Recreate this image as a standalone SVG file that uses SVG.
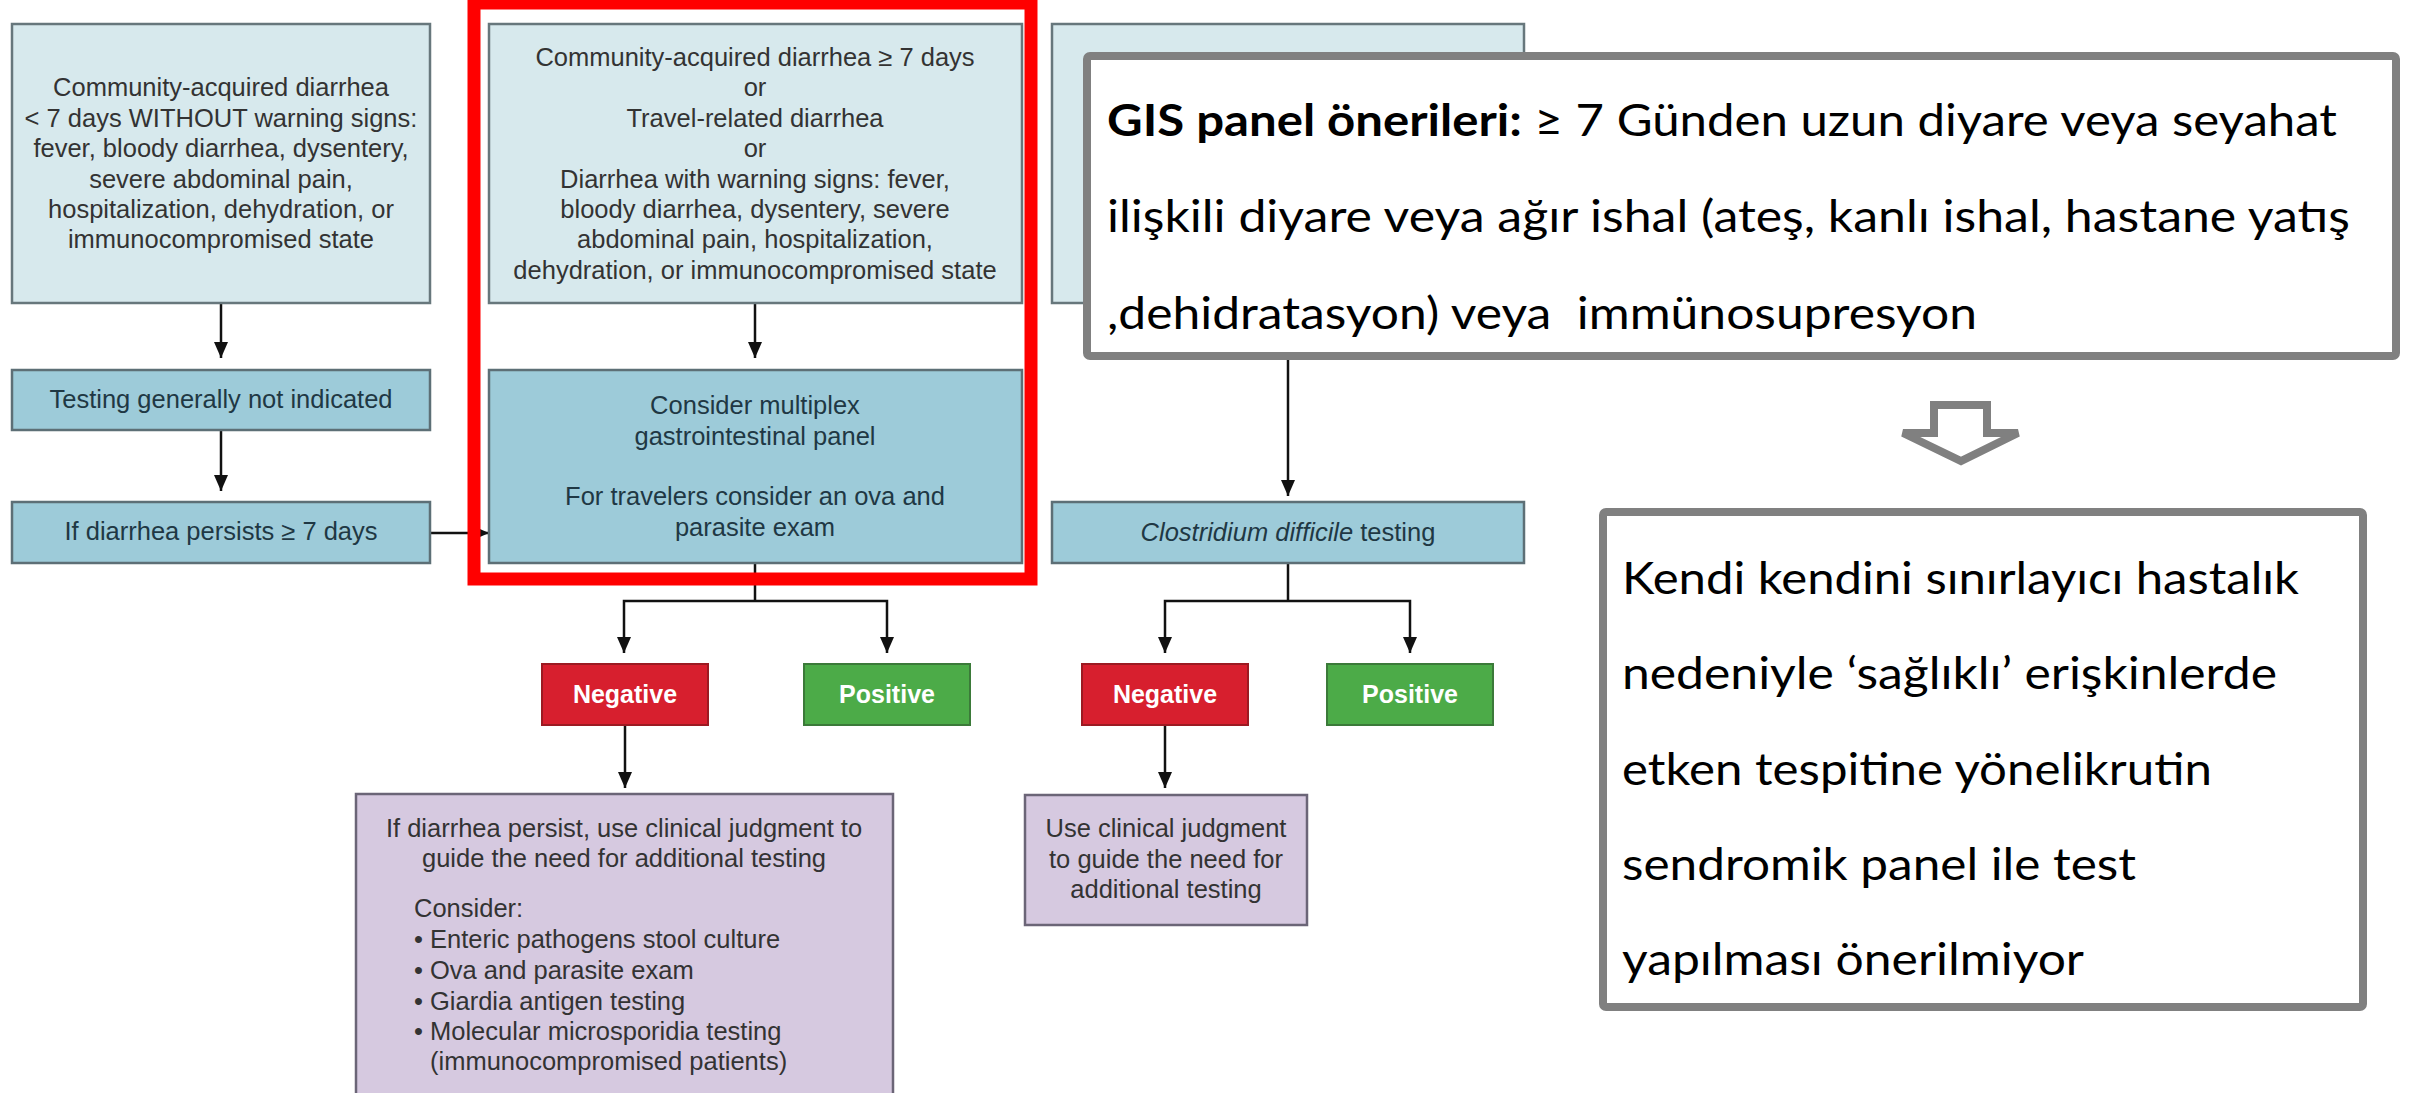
<svg xmlns="http://www.w3.org/2000/svg" width="2412" height="1093" viewBox="0 0 2412 1093">
<defs>
<style>
.pale{fill:#d7e9ed;stroke:#67777c;stroke-width:2.5}
.mid{fill:#9dcbd9;stroke:#5d6f76;stroke-width:2.5}
.neg{fill:#d71f2e;stroke:#9c1a22;stroke-width:2}
.pos{fill:#4cab48;stroke:#3b7a39;stroke-width:2}
.pur{fill:#d6c9e0;stroke:#6b6577;stroke-width:2.5}
.t{font-family:"Liberation Sans",Arial,sans-serif;font-size:25.5px;fill:#333;text-anchor:middle}
.td{fill:#1f3844}
.tl{text-anchor:start}
.tw{font-family:"Liberation Sans",Arial,sans-serif;font-weight:bold;fill:#fff;font-size:25px;text-anchor:middle}
.con{stroke:#111;stroke-width:2.5;fill:none}
.arr{marker-end:url(#ah)}
.gbox{fill:#fff;stroke:#808080;stroke-width:8}
.tr{font-family:Lato,"Liberation Sans",sans-serif;font-size:44px;fill:#000}
</style>
<marker id="ah" viewBox="0 0 16 14" refX="16" refY="7" markerWidth="16" markerHeight="14" markerUnits="userSpaceOnUse" orient="auto">
<path d="M0,0 L16,7 L0,14 Z" fill="#111"/>
</marker>
</defs>
<rect width="2412" height="1093" fill="#fff"/>

<g id="connectors">
<line class="con arr" x1="221" y1="303" x2="221" y2="358"/>
<line class="con arr" x1="221" y1="430" x2="221" y2="491"/>
<line class="con arr" x1="430" y1="533" x2="489" y2="533"/>
<line class="con arr" x1="755" y1="303" x2="755" y2="358"/>
<polyline class="con" points="755,563 755,601"/>
<polyline class="con arr" points="755,601 624,601 624,653"/>
<polyline class="con arr" points="755,601 887,601 887,653"/>
<line class="con arr" x1="625" y1="725" x2="625" y2="788"/>
<line class="con arr" x1="1288" y1="303" x2="1288" y2="496"/>
<polyline class="con" points="1288,563 1288,601"/>
<polyline class="con arr" points="1288,601 1165,601 1165,653"/>
<polyline class="con arr" points="1288,601 1410,601 1410,653"/>
<line class="con arr" x1="1165" y1="725" x2="1165" y2="788"/>
</g>

<g id="box-under7">
<rect class="pale" x="12" y="24" width="418" height="279"/>
<text class="t"><tspan x="221" y="96">Community-acquired diarrhea</tspan><tspan x="221" y="127">&lt; 7 days WITHOUT warning signs:</tspan><tspan x="221" y="157">fever, bloody diarrhea, dysentery,</tspan><tspan x="221" y="188">severe abdominal pain,</tspan><tspan x="221" y="218">hospitalization, dehydration, or</tspan><tspan x="221" y="248">immunocompromised state</tspan></text>
</g>
<g id="box-not-indicated">
<rect class="mid" x="12" y="370" width="418" height="60"/>
<text class="t td" x="221" y="408">Testing generally not indicated</text>
</g>
<g id="box-persists">
<rect class="mid" x="12" y="502" width="418" height="61"/>
<text class="t td" x="221" y="540">If diarrhea persists ≥ 7 days</text>
</g>

<g id="box-over7">
<rect class="pale" x="489" y="24" width="533" height="279"/>
<text class="t"><tspan x="755" y="66">Community-acquired diarrhea ≥ 7 days</tspan><tspan x="755" y="96">or</tspan><tspan x="755" y="127">Travel-related diarrhea</tspan><tspan x="755" y="157">or</tspan><tspan x="755" y="188">Diarrhea with warning signs: fever,</tspan><tspan x="755" y="218">bloody diarrhea, dysentery, severe</tspan><tspan x="755" y="248">abdominal pain, hospitalization,</tspan><tspan x="755" y="279">dehydration, or immunocompromised state</tspan></text>
</g>
<g id="box-multiplex">
<rect class="mid" x="489" y="370" width="533" height="193"/>
<text class="t td"><tspan x="755" y="414">Consider multiplex</tspan><tspan x="755" y="445">gastrointestinal panel</tspan><tspan x="755" y="505">For travelers consider an ova and</tspan><tspan x="755" y="536">parasite exam</tspan></text>
</g>

<g id="neg1">
<rect class="neg" x="542" y="664" width="166" height="61"/>
<text class="tw" x="625" y="703">Negative</text>
</g>
<g id="pos1">
<rect class="pos" x="804" y="664" width="166" height="61"/>
<text class="tw" x="887" y="703">Positive</text>
</g>
<g id="purple1">
<rect class="pur" x="356" y="794" width="537" height="310"/>
<text class="t"><tspan x="624" y="837">If diarrhea persist, use clinical judgment to</tspan><tspan x="624" y="867">guide the need for additional testing</tspan></text>
<text class="t tl"><tspan x="414" y="917">Consider:</tspan><tspan x="414" y="948">• Enteric pathogens stool culture</tspan><tspan x="414" y="979">• Ova and parasite exam</tspan><tspan x="414" y="1010">• Giardia antigen testing</tspan><tspan x="414" y="1040">• Molecular microsporidia testing</tspan><tspan x="430" y="1070">(immunocompromised patients)</tspan></text>
</g>

<g id="box-right-top">
<rect class="pale" x="1052" y="24" width="472" height="279"/>
</g>
<g id="box-cdiff">
<rect class="mid" x="1052" y="502" width="472" height="61"/>
<text class="t td" x="1288" y="541"><tspan font-style="italic">Clostridium difficile</tspan> testing</text>
</g>
<g id="neg2">
<rect class="neg" x="1082" y="664" width="166" height="61"/>
<text class="tw" x="1165" y="703">Negative</text>
</g>
<g id="pos2">
<rect class="pos" x="1327" y="664" width="166" height="61"/>
<text class="tw" x="1410" y="703">Positive</text>
</g>
<g id="purple2">
<rect class="pur" x="1025" y="795" width="282" height="130"/>
<text class="t"><tspan x="1166" y="837">Use clinical judgment</tspan><tspan x="1166" y="868">to guide the need for</tspan><tspan x="1166" y="898">additional testing</tspan></text>
</g>

<g id="red-frame">
<rect x="474" y="3" width="557" height="576" fill="none" stroke="#ff0000" stroke-width="13"/>
</g>

<g id="gis-box">
<rect class="gbox" x="1087" y="56" width="1309" height="300" rx="3"/>
<text class="tr" x="1107" y="136" textLength="1230" lengthAdjust="spacingAndGlyphs"><tspan font-weight="bold">GIS panel önerileri:</tspan> ≥ 7 Günden uzun diyare veya seyahat</text>
<text class="tr" x="1107" y="232" textLength="1243" lengthAdjust="spacingAndGlyphs">ilişkili diyare veya ağır ishal (ateş, kanlı ishal, hastane yatış</text>
<text class="tr" x="1107" y="329" textLength="870" lengthAdjust="spacingAndGlyphs" xml:space="preserve">,dehidratasyon) veya  immünosupresyon</text>
</g>

<g id="hollow-arrow">
<polygon points="1934,405 1987,405 1987,433 2018,433 1961,461 1903,433 1934,433" fill="#fff" stroke="#808080" stroke-width="8"/>
</g>

<g id="final-box">
<rect class="gbox" x="1603" y="512" width="760" height="495" rx="3"/>
<text class="tr" x="1622" y="594" textLength="677" lengthAdjust="spacingAndGlyphs">Kendi kendini sınırlayıcı hastalık</text>
<text class="tr" x="1622" y="689" textLength="655" lengthAdjust="spacingAndGlyphs">nedeniyle ‘sağlıklı’ erişkinlerde</text>
<text class="tr" x="1622" y="785" textLength="590" lengthAdjust="spacingAndGlyphs">etken tespitine yönelikrutin</text>
<text class="tr" x="1622" y="880" textLength="514" lengthAdjust="spacingAndGlyphs">sendromik panel ile test</text>
<text class="tr" x="1622" y="975" textLength="462" lengthAdjust="spacingAndGlyphs">yapılması önerilmiyor</text>
</g>
</svg>
